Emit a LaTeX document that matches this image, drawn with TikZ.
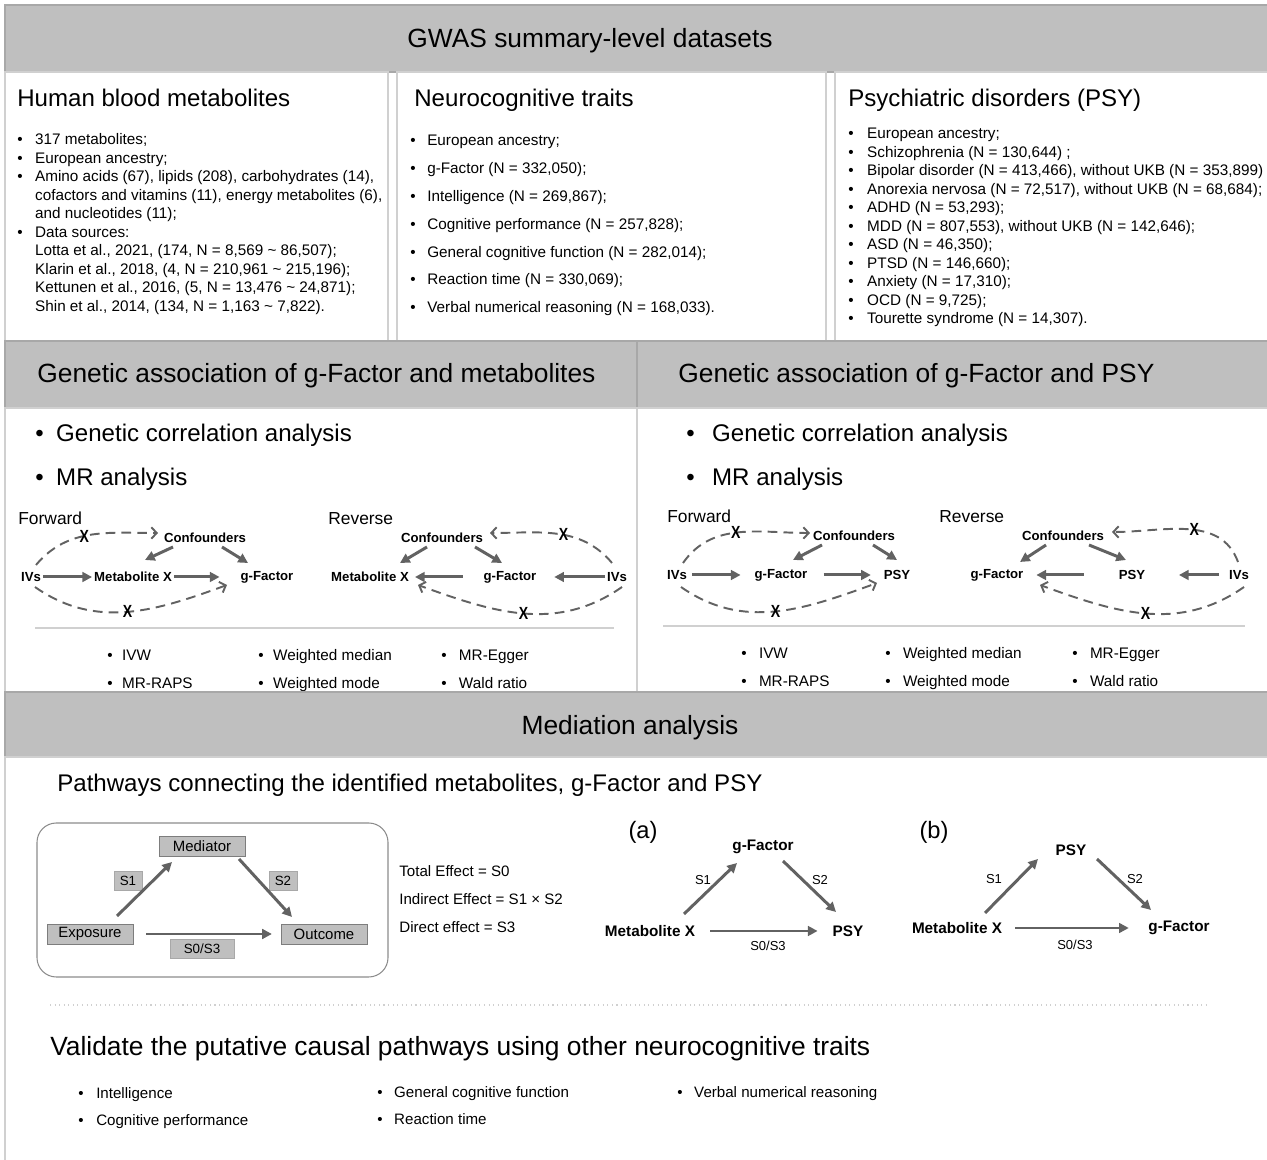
\documentclass[tikz,border=0pt]{standalone}
\usepackage{fontspec}
\setmainfont{Liberation Sans}
\usepackage{tikz}
\usetikzlibrary{arrows.meta,calc}

\definecolor{bandgray}{RGB}{191,191,191}
\definecolor{bandline}{RGB}{168,168,168}
\definecolor{panelline}{RGB}{208,208,208}
\definecolor{arrowgray}{RGB}{98,98,98}
\definecolor{boxline}{RGB}{125,125,125}

\tikzset{
  band/.style={fill=bandgray, draw=bandline, line width=0.6pt},
  panel/.style={draw=panelline, line width=0.6pt},
  hdr/.style={font=\fontsize{15}{18}\selectfont, inner sep=0pt},
  ttl/.style={font=\fontsize{13.7}{16}\selectfont, anchor=base west, inner sep=0pt},
  body/.style={font=\fontsize{8.7}{10.5}\selectfont, anchor=base west, inner sep=0pt},
  wide/.style={font=\fontsize{8.7}{15.9}\selectfont, anchor=base west, inner sep=0pt},
  lbl/.style={font=\bfseries\fontsize{7.5}{9}\selectfont, inner sep=1pt},
  big/.style={font=\bfseries\fontsize{8.7}{10}\selectfont, inner sep=1pt},
  xmark/.style={font=\bfseries\fontsize{10}{11}\selectfont, inner sep=0pt, text=black,
    transform shape, xscale=0.8},
  cause/.style={-{Triangle[length=5.5pt,width=5.5pt]}, line width=1.7pt, draw=arrowgray},
  dasharr/.style={-{Straight Barb[length=3pt,width=6.5pt]}, line width=1.1pt,
    draw=arrowgray, dash pattern=on 5.5pt off 3.5pt},
  gbox/.style={rectangle, draw=boxline, fill=bandgray, minimum width=1.72cm,
    minimum height=0.4cm, inner sep=0pt, font=\fontsize{8.5}{10}\selectfont},
  sbox/.style={rectangle, draw=bandline, fill=bandgray, minimum width=0.56cm,
    minimum height=0.38cm, inner sep=0pt, font=\fontsize{7.6}{9}\selectfont},
  slab/.style={font=\fontsize{7.4}{9}\selectfont, inner sep=0pt},
}

\begin{document}
\begin{tikzpicture}[x=0.02cm, y=0.02cm]
  \useasboundingbox (0,0) rectangle (1267,1159);

  % GWAS datasets
  \draw[band] (5,1154) rectangle (1272,1087);
  \draw[panel] (5,1087) rectangle (388,818);
  \draw[panel] (397,1087) rectangle (826,818);
  \draw[panel] (835,1087) rectangle (1272,818);
  \node[hdr, anchor=base] (gwas) at (590,1111) {GWAS summary-level datasets};

  \node[ttl] (metab) at (17,1052) {Human blood metabolites};
  \node[ttl] (neuro) at (414,1052) {Neurocognitive traits};
  \node[ttl] (psych) at (848,1052) {Psychiatric disorders (PSY)};

  \node[body] (metablist) at (17,1014) {\begin{tabular}[t]{@{}l@{\hspace{7.1pt}}l@{}}
    \textbullet & 317 metabolites;\\
    \textbullet & European ancestry;\\
    \textbullet & Amino acids (67), lipids (208), carbohydrates (14),\\
                & cofactors and vitamins (11), energy metabolites (6),\\
                & and nucleotides (11);\\
    \textbullet & Data sources:\\
                & Lotta et al., 2021, (174, N = 8,569 \textasciitilde{} 86,507);\\
                & Klarin et al., 2018, (4, N = 210,961 \textasciitilde{} 215,196);\\
                & Kettunen et al., 2016, (5, N = 13,476 \textasciitilde{} 24,871);\\
                & Shin et al., 2014, (134, N = 1,163 \textasciitilde{} 7,822).
  \end{tabular}};
  \node[wide, font=\fontsize{8.7}{15.8}\selectfont] (neurolist) at (410,1013) {\begin{tabular}[t]{@{}l@{\hspace{6.6pt}}l@{}}
    \textbullet & European ancestry;\\
    \textbullet & g-Factor (N = 332,050);\\
    \textbullet & Intelligence (N = 269,867);\\
    \textbullet & Cognitive performance (N = 257,828);\\
    \textbullet & General cognitive function (N = 282,014);\\
    \textbullet & Reaction time (N = 330,069);\\
    \textbullet & Verbal numerical reasoning (N = 168,033).
  \end{tabular}};
  \node[body] (psylist) at (848,1020) {\begin{tabular}[t]{@{}l@{\hspace{7.7pt}}l@{}}
    \textbullet & European ancestry;\\
    \textbullet & Schizophrenia (N = 130,644) ;\\
    \textbullet & Bipolar disorder (N = 413,466), without UKB (N = 353,899)\\
    \textbullet & Anorexia nervosa (N = 72,517), without UKB (N = 68,684);\\
    \textbullet & ADHD (N = 53,293);\\
    \textbullet & MDD (N = 807,553), without UKB (N = 142,646);\\
    \textbullet & ASD (N = 46,350);\\
    \textbullet & PTSD (N = 146,660);\\
    \textbullet & Anxiety (N = 17,310);\\
    \textbullet & OCD (N = 9,725);\\
    \textbullet & Tourette syndrome (N = 14,307).
  \end{tabular}};

  % genetic association panels
  \draw[band] (5,818) rectangle (637,751);
  \draw[band] (637,818) rectangle (1272,751);
  \draw[panel] (5,751) rectangle (637,467);
  \draw[panel] (637,751) rectangle (1272,467);
  \node[hdr, anchor=base west] (hmeta) at (37,776) {Genetic association of g-Factor and metabolites};
  \node[hdr, anchor=base west] (hpsy) at (678,776) {Genetic association of g-Factor and PSY};
  \node[ttl, font=\fontsize{13.7}{24.9}\selectfont] (anal1) at (35,717) {\begin{tabular}[t]{@{}l@{\hspace{7.1pt}}l@{}}
    \textbullet & Genetic correlation analysis\\
    \textbullet & MR analysis
  \end{tabular}};
  \node[ttl, font=\fontsize{13.7}{24.9}\selectfont] (anal2) at (686,717) {\begin{tabular}[t]{@{}l@{\hspace{9.9pt}}l@{}}
    \textbullet & Genetic correlation analysis\\
    \textbullet & MR analysis
  \end{tabular}};

  % forward, metabolites
  \node[body, font=\fontsize{9.9}{12}\selectfont] (fwd1) at (18,634) {Forward};
  \node[lbl] (conf1) at (205,621) {Confounders};
  \node[lbl] (ivs1) at (31,582) {IVs};
  \node[lbl] (metx1) at (133,582) {Metabolite X};
  \node[lbl] (gfac1) at (267,582) {g-Factor};
  \draw[cause] (ivs1) -- (metx1);
  \draw[cause, shorten >=10.8pt] (metx1) -- (gfac1);
  \draw[cause] ($(conf1)+(-32,-9)$) -- ($(metx1)+(12,17)$);
  \draw[cause] ($(conf1)+(17,-9)$) -- ($(gfac1)+(-19,14)$);
  \draw[dasharr] ($(ivs1)+(5,12)$) to[out=50,in=180] node[xmark,pos=0.45] (xu1) {X} ($(conf1)+(-47,5)$);
  \draw[dasharr] ($(ivs1)+(4,-10)$) to[out=-35,in=200] node[xmark,pos=0.5] (xl1) {X} ($(gfac1)+(-40,-8)$);

  % reverse, metabolites
  \node[body, font=\fontsize{9.9}{12}\selectfont] (rev1) at (328,634) {Reverse};
  \node[lbl] (conf2) at (442,621) {Confounders};
  \node[lbl] (metx2) at (370,582) {Metabolite X};
  \node[lbl] (gfac2) at (510,582) {g-Factor};
  \node[lbl] (ivs2) at (617,582) {IVs};
  \draw[cause, shorten >=9pt] (ivs2) -- (gfac2);
  \draw[cause, shorten <=10.8pt, shorten >=2.3pt] (gfac2) -- (metx2);
  \draw[cause] ($(conf2)+(-15,-9)$) -- ($(metx2)+(30,14)$);
  \draw[cause] ($(conf2)+(33,-9)$) -- ($(gfac2)+(-8,14)$);
  \draw[dasharr] ($(ivs2)+(-5,14)$) to[out=130,in=0] node[xmark,pos=0.45] (xu2) {X} ($(conf2)+(48,5)$);
  \draw[dasharr] ($(ivs2)+(5,-10)$) to[out=-145,in=-20] node[xmark,pos=0.5] (xl2) {X} ($(metx2)+(48,-8)$);

  \coordinate (sep1a) at (35,531);
  \coordinate (sep1b) at (614,531);
  \draw[panelline, line width=0.6pt] (sep1a) -- (sep1b);

  \node[wide] (meth1) at (107,498.5) {\begin{tabular}[t]{@{}l@{\hspace{5.4pt}}l@{}}
    \textbullet & IVW\\ \textbullet & MR-RAPS\end{tabular}};
  \node[wide] (meth2) at (258,498.5) {\begin{tabular}[t]{@{}l@{\hspace{5.4pt}}l@{}}
    \textbullet & Weighted median\\ \textbullet & Weighted mode\end{tabular}};
  \node[wide] (meth3) at (441,498.5) {\begin{tabular}[t]{@{}l@{\hspace{7pt}}l@{}}
    \textbullet & MR-Egger\\ \textbullet & Wald ratio\end{tabular}};

  % forward, PSY
  \node[body, font=\fontsize{9.9}{12}\selectfont] (fwd2) at (667,636) {Forward};
  \node[lbl] (conf3) at (854,623) {Confounders};
  \node[lbl] (ivs3) at (677,584) {IVs};
  \node[lbl] (gfac3) at (781,584) {g-Factor};
  \node[lbl] (psy3) at (897,584) {PSY};
  \draw[cause, shorten <=1.7pt, shorten >=6.8pt] (ivs3) -- (gfac3);
  \draw[cause, shorten <=8pt, shorten >=6.2pt] (gfac3) -- (psy3);
  \draw[cause] ($(conf3)+(-32,-9)$) -- ($(gfac3)+(12,15)$);
  \draw[cause] ($(conf3)+(19,-9)$) -- ($(psy3)+(0,15)$);
  \draw[dasharr] ($(ivs3)+(6,12)$) to[out=55,in=180] node[xmark,pos=0.48] (xu3) {X} ($(conf3)+(-44,3)$);
  \draw[dasharr] ($(ivs3)+(4,-12)$) to[out=-35,in=200] node[xmark,pos=0.5] (xl3) {X} ($(psy3)+(-20,-8)$);

  % reverse, PSY
  \node[body, font=\fontsize{9.9}{12}\selectfont] (rev2) at (939,636) {Reverse};
  \node[lbl] (conf4) at (1063,623) {Confounders};
  \node[lbl] (gfac4) at (997,584) {g-Factor};
  \node[lbl] (psy4) at (1132,584) {PSY};
  \node[lbl] (ivs4) at (1239,584) {IVs};
  \draw[cause, shorten <=4.5pt, shorten >=18pt] (ivs4) -- (psy4);
  \draw[cause, shorten <=18.7pt, shorten >=6.2pt] (psy4) -- (gfac4);
  \draw[cause] ($(conf4)+(-17,-9)$) -- ($(gfac4)+(23,13)$);
  \draw[cause] ($(conf4)+(26,-9)$) -- ($(psy4)+(-6,15)$);
  \draw[dasharr] ($(ivs4)+(-1,13)$) to[out=110,in=0] node[xmark,pos=0.45] (xu4) {X} ($(conf4)+(49,4)$);
  \draw[dasharr] ($(ivs4)+(5,-12)$) to[out=-145,in=-20] node[xmark,pos=0.5] (xl4) {X} ($(gfac4)+(43,-10)$);

  \coordinate (sep2a) at (663,533);
  \coordinate (sep2b) at (1245,533);
  \draw[panelline, line width=0.6pt] (sep2a) -- (sep2b);

  \node[wide] (meth4) at (741,500.5) {\begin{tabular}[t]{@{}l@{\hspace{7pt}}l@{}}
    \textbullet & IVW\\ \textbullet & MR-RAPS\end{tabular}};
  \node[wide] (meth5) at (885,500.5) {\begin{tabular}[t]{@{}l@{\hspace{7pt}}l@{}}
    \textbullet & Weighted median\\ \textbullet & Weighted mode\end{tabular}};
  \node[wide] (meth6) at (1072,500.5) {\begin{tabular}[t]{@{}l@{\hspace{7pt}}l@{}}
    \textbullet & MR-Egger\\ \textbullet & Wald ratio\end{tabular}};

  % mediation analysis
  \draw[band] (5,467) rectangle (1272,402);
  \draw[panel] (5,402) rectangle (1272,-5);
  \node[hdr, anchor=base] (medhdr) at (630,424) {Mediation analysis};
  \node[ttl] (paths) at (57,367.5) {Pathways connecting the identified metabolites, g-Factor and PSY};

  \draw[black!45, line width=0.6pt, rounded corners=11pt] (37,336) rectangle (388,182);
  \node[gbox] (medi) at (202,313) {Mediator};
  \node[gbox] (expo) at (90,225) {Exposure};
  \node[gbox] (outc) at (324,225) {Outcome};
  \node[sbox] (s1) at (128,278) {S1};
  \node[sbox] (s2) at (283,278) {S2};
  \node[sbox, minimum width=1.28cm] (s03) at (202,210) {S0/S3};
  \draw[cause] ($(expo)+(27,18)$) -- ($(medi)+(-30,-16)$);
  \draw[cause] ($(medi)+(37,-13)$) -- ($(outc)+(-32,17)$);
  \draw[cause, shorten <=7.4pt, shorten >=5pt] (expo) -- (outc);

  \node[body, font=\fontsize{8.6}{15.9}\selectfont] (effects) at (399,282) {\begin{tabular}[t]{@{}l@{}}
    Total Effect = S0\\ Indirect Effect = S1 × S2\\ Direct effect = S3\end{tabular}};

  % pathway (a)
  \node[font=\fontsize{13.5}{16}\selectfont, inner sep=0pt] (pa) at (643,327) {(a)};
  \node[big] (gfa) at (763,312) {g-Factor};
  \node[big] (metxa) at (650,228) {Metabolite X};
  \node[big] (psya) at (848,228) {PSY};
  \draw[cause] ($(metxa)+(34,17)$) -- ($(gfa)+(-26,-16)$);
  \draw[cause] ($(gfa)+(20,-14)$) -- ($(psya)+(-12,19)$);
  \draw[cause, shorten <=7.4pt, shorten >=7.4pt] (metxa) -- (psya);
  \node[slab] (s1a) at (703,279) {S1};
  \node[slab] (s2a) at (820,279) {S2};
  \node[slab] (s03a) at (768,213) {S0/S3};

  % pathway (b)
  \node[font=\fontsize{13.5}{16}\selectfont, inner sep=0pt] (pb) at (934,327) {(b)};
  \node[big] (psyb) at (1071,309) {PSY};
  \node[big] (metxb) at (957,231) {Metabolite X};
  \node[big] (gfb) at (1179,231) {g-Factor};
  \draw[cause] ($(metxb)+(28,15)$) -- ($(psyb)+(-33,-9)$);
  \draw[cause] ($(psyb)+(26,-9)$) -- ($(gfb)+(-28,18)$);
  \draw[cause, shorten <=6.2pt, shorten >=10pt] (metxb) -- (gfb);
  \node[slab] (s1b) at (994,280) {S1};
  \node[slab] (s2b) at (1135,280) {S2};
  \node[slab] (s03b) at (1075,214) {S0/S3};

  % validation
  \coordinate (dota) at (50,154);
  \coordinate (dotb) at (1210,154);
  \draw[panelline, dotted, line width=0.6pt] (dota) -- (dotb);
  \node[hdr, anchor=base west] (valid) at (50,103) {Validate the putative causal pathways using other neurocognitive traits};
  \node[wide, font=\fontsize{8.6}{15.3}\selectfont] (trait1) at (78,60) {\begin{tabular}[t]{@{}l@{\hspace{7.2pt}}l@{}}
    \textbullet & Intelligence\\ \textbullet & Cognitive performance\end{tabular}};
  \node[wide, font=\fontsize{8.6}{15.3}\selectfont] (trait2) at (377,61.5) {\begin{tabular}[t]{@{}l@{\hspace{6.6pt}}l@{}}
    \textbullet & General cognitive function\\ \textbullet & Reaction time\end{tabular}};
  \node[wide, font=\fontsize{8.6}{15.3}\selectfont] (trait3) at (677,61.5) {\begin{tabular}[t]{@{}l@{\hspace{6.6pt}}l@{}}
    \textbullet & Verbal numerical reasoning\end{tabular}};
\end{tikzpicture}
\end{document}
